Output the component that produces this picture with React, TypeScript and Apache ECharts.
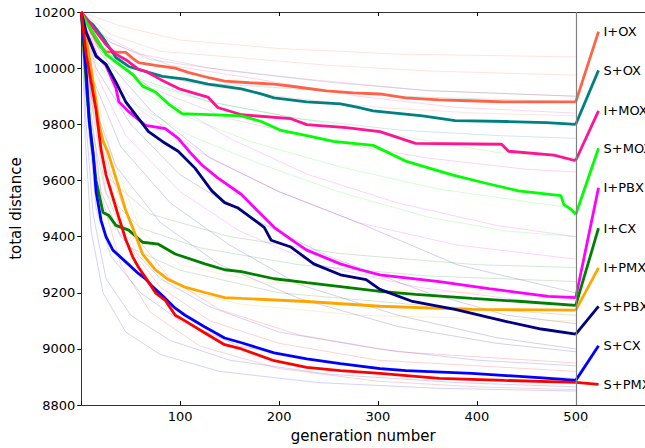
import React, { useEffect, useRef } from "react";
import * as echarts from "echarts";

const seriesNames = ["I+OX", "S+OX", "I+MOX", "S+MOX", "I+PBX", "I+CX", "I+PMX", "S+PBX", "S+CX", "S+PMX"];
const seriesColors = ["#ff6347", "#008080", "#ff1493", "#00ff00", "#ff00ff", "#008000", "#ffa500", "#000080", "#0000ff", "#ff0000"];
const labelValues = [10130, 9992, 9848, 9715, 9574, 9430, 9289, 9152, 9011, 8874];
const xTicks = [100, 200, 300, 400, 500];

const IOX = [[0,10200],[5,10170],[10,10130],[15,10100],[20,10075],[25,10058],[45,10056],[52,10035],[58,10020],[75,10010],[95,10000],[108,9985],[130,9965],[145,9954],[170,9948],[195,9943],[220,9932],[248,9919],[275,9912],[302,9908],[328,9894],[362,9887],[400,9883],[428,9880],[500,9880]];
const SOX = [[0,10200],[5,10175],[12,10154],[22,10108],[35,10038],[48,10006],[68,9985],[82,9971],[105,9961],[128,9943],[162,9926],[180,9910],[195,9894],[228,9880],[262,9873],[280,9860],[295,9848],[345,9830],[378,9813],[430,9810],[470,9806],[500,9800]];
const IMOX = [[0,10200],[8,10165],[15,10130],[25,10084],[35,10050],[45,10030],[58,9996],[65,9989],[80,9960],[100,9925],[128,9897],[138,9860],[162,9834],[212,9820],[228,9799],[268,9788],[302,9774],[338,9732],[425,9729],[432,9704],[478,9690],[498,9672],[500,9672]];
const SMOX = [[0,10200],[5,10165],[15,10108],[25,10049],[38,10014],[52,9978],[62,9936],[75,9915],[88,9873],[102,9838],[162,9830],[182,9810],[202,9778],[228,9760],[255,9739],[295,9725],[328,9669],[345,9651],[375,9620],[408,9591],[442,9563],[485,9546],[488,9514],[496,9495],[500,9479]];
const IPBX = [[0,10200],[5,10130],[15,10045],[25,10010],[35,9930],[38,9880],[48,9845],[65,9796],[85,9785],[98,9750],[110,9700],[122,9655],[138,9609],[162,9550],[178,9493],[195,9433],[212,9390],[228,9352],[262,9303],[282,9282],[302,9264],[362,9240],[412,9215],[472,9187],[500,9183]];
const ICX = [[0,10200],[3,10050],[6,9900],[10,9750],[15,9600],[22,9486],[28,9475],[35,9440],[48,9423],[62,9380],[78,9373],[95,9338],[125,9303],[145,9282],[162,9275],[195,9250],[228,9236],[262,9222],[302,9205],[338,9194],[395,9180],[445,9169],[500,9155]];
const IPMX = [[0,10200],[5,10110],[10,10000],[15,9880],[18,9800],[22,9740],[27,9700],[32,9644],[38,9574],[45,9493],[53,9423],[62,9338],[75,9282],[88,9247],[105,9220],[125,9201],[145,9183],[162,9180],[228,9169],[302,9152],[395,9141],[500,9138]];
const SPBX = [[0,10200],[5,10126],[15,10042],[25,10014],[35,9950],[45,9880],[58,9820],[68,9774],[82,9739],[98,9704],[115,9644],[132,9563],[145,9521],[158,9503],[185,9433],[192,9387],[212,9363],[235,9303],[262,9264],[288,9247],[302,9212],[335,9169],[378,9141],[428,9099],[465,9071],[500,9053]];
const SCX = [[0,10200],[3,10080],[5,9989],[8,9813],[12,9697],[15,9560],[20,9458],[25,9400],[32,9352],[45,9310],[58,9268],[65,9250],[72,9222],[85,9180],[95,9145],[105,9120],[125,9078],[145,9039],[162,9022],[195,8986],[228,8965],[262,8948],[302,8930],[328,8923],[395,8913],[462,8898],[500,8888]];
const SPMX = [[0,10200],[5,10050],[10,9950],[15,9850],[20,9710],[25,9620],[32,9539],[38,9468],[45,9390],[52,9328],[58,9290],[65,9254],[75,9200],[85,9173],[95,9120],[105,9100],[125,9057],[145,9015],[162,9000],[195,8958],[228,8934],[262,8923],[302,8913],[362,8895],[428,8888],[500,8881]];

const mainSeries = [IOX, SOX, IMOX, SMOX, IPBX, ICX, IPMX, SPBX, SCX, SPMX];

const fIOX1 = [[0,10200],[30,10120],[80,10060],[150,10040],[250,10010],[350,9990],[500,9975]];
const fIOX2 = [[0,10200],[20,10080],[60,9990],[120,9940],[200,9900],[300,9860],[400,9840],[500,9830]];
const fIOX3 = [[0,10200],[40,10150],[100,10100],[200,10070],[320,10050],[500,10040]];
const fSOX1 = [[0,10200],[25,10100],[70,10030],[150,9990],[250,9950],[350,9920],[500,9900]];
const fSOX2 = [[0,10200],[20,10060],[60,9960],[130,9880],[220,9820],[320,9780],[420,9760],[500,9750]];
const fSOX3 = [[0,10200],[15,10080],[50,10000],[110,9950],[200,9930],[320,9900],[500,9880]];
const fIMOX1 = [[0,10200],[30,10090],[90,10010],[180,9960],[280,9900],[380,9860],[500,9840]];
const fIMOX2 = [[0,10200],[25,10040],[70,9930],[150,9820],[250,9740],[350,9680],[450,9640],[500,9630]];
const fIMOX3 = [[0,10200],[20,10120],[60,10050],[130,10000],[230,9960],[350,9920],[500,9900]];
const fSMOX1 = [[0,10200],[20,10060],[60,9950],[130,9880],[220,9820],[320,9760],[420,9700],[500,9680]];
const fSMOX2 = [[0,10200],[15,10020],[50,9880],[110,9760],[180,9660],[260,9560],[350,9470],[430,9420],[500,9400]];
const fSMOX3 = [[0,10200],[30,10000],[90,9850],[170,9740],[260,9650],[360,9570],[460,9520],[500,9500]];
const fIPBX1 = [[0,10200],[20,10020],[60,9850],[120,9700],[200,9560],[280,9450],[380,9370],[500,9320]];
const fIPBX2 = [[0,10200],[15,9980],[45,9760],[100,9560],[160,9420],[240,9300],[340,9220],[500,9150]];
const fIPBX3 = [[0,10200],[25,10060],[80,9900],[150,9750],[230,9620],[320,9520],[420,9440],[500,9400]];
const fSPBX1 = [[0,10200],[15,10000],[50,9800],[100,9620],[170,9470],[250,9330],[350,9200],[430,9120],[500,9090]];
const fSPBX2 = [[0,10200],[12,9960],[40,9720],[90,9520],[150,9370],[220,9230],[320,9120],[420,9040],[500,9000]];
const fSPBX3 = [[0,10200],[20,10050],[70,9850],[130,9680],[200,9560],[280,9450],[380,9300],[500,9200]];
const fSPBX4 = [[0,10200],[10,9900],[35,9650],[80,9450],[140,9300],[220,9180],[320,9080],[420,9020],[500,8990]];
const fICX1 = [[0,10200],[10,9800],[25,9550],[60,9430],[120,9360],[220,9300],[350,9260],[500,9240]];
const fICX2 = [[0,10200],[8,9750],[20,9500],[50,9360],[100,9280],[200,9200],[330,9160],[500,9120]];
const fICX3 = [[0,10200],[12,9850],[30,9600],[70,9480],[150,9400],[260,9340],[400,9300],[500,9290]];
const fIPMX1 = [[0,10200],[12,9950],[30,9700],[60,9420],[100,9300],[180,9240],[300,9210],[500,9190]];
const fIPMX2 = [[0,10200],[10,9900],[25,9620],[55,9350],[90,9220],[160,9160],[280,9120],[500,9100]];
const fSCX1 = [[0,10200],[6,9850],[15,9500],[30,9330],[60,9200],[100,9100],[160,9010],[250,8950],[350,8920],[500,8895]];
const fSCX2 = [[0,10200],[5,9800],[12,9480],[25,9250],[50,9120],[90,9030],[150,8960],[250,8910],[380,8880],[500,8865]];
const fSCX3 = [[0,10200],[8,9900],[20,9560],[40,9400],[80,9250],[130,9150],[200,9060],[300,9000],[400,8960],[500,8940]];
const fSCX4 = [[0,10200],[4,9750],[10,9420],[22,9200],[45,9060],[80,8980],[140,8920],[240,8880],[360,8860],[500,8850]];
const fSPMX1 = [[0,10200],[10,9880],[25,9560],[45,9380],[80,9220],[130,9100],[200,9020],[300,8960],[500,8920]];
const fSPMX2 = [[0,10200],[8,9820],[20,9550],[40,9300],[70,9130],[120,9010],[200,8930],[300,8885],[400,8865],[500,8855]];
const fSPMX3 = [[0,10200],[12,9920],[30,9620],[55,9400],[90,9250],[140,9140],[220,9050],[320,8990],[500,8950]];

const faintRuns: [number, number[][]][] = [
  [0, fIOX1], [0, fIOX2], [0, fIOX3], [1, fSOX1], [1, fSOX2], [1, fSOX3],
  [2, fIMOX1], [2, fIMOX2], [2, fIMOX3], [3, fSMOX1], [3, fSMOX2], [3, fSMOX3],
  [4, fIPBX1], [4, fIPBX2], [4, fIPBX3], [7, fSPBX1], [7, fSPBX2], [7, fSPBX3], [7, fSPBX4],
  [5, fICX1], [5, fICX2], [5, fICX3], [6, fIPMX1], [6, fIPMX2],
  [8, fSCX1], [8, fSCX2], [8, fSCX3], [8, fSCX4], [9, fSPMX1], [9, fSPMX2], [9, fSPMX3],
];

const FONT = "DejaVu Sans";

export default function App() {
  const ref = useRef<HTMLDivElement>(null);
  useEffect(() => {
    if (!ref.current) return;
    const chart = echarts.init(ref.current, null, { renderer: "svg" });
    const series: any[] = [];
    faintRuns.forEach(([idx, pts]) => {
      series.push({
        type: "line",
        data: pts,
        symbol: "none",
        silent: true,
        lineStyle: { color: seriesColors[idx], width: 1, opacity: 0.18 },
        z: 1,
      });
    });
    series.push({
      type: "line",
      data: [],
      silent: true,
      markLine: {
        silent: true,
        symbol: "none",
        label: { show: false },
        lineStyle: { color: "#808080", width: 1.2, type: "solid" },
        data: [{ xAxis: 500 }],
      },
      z: 2,
    });
    mainSeries.forEach((pts, i) => {
      series.push({
        type: "line",
        name: seriesNames[i],
        data: pts,
        symbol: "none",
        lineStyle: { color: seriesColors[i], width: 2.8 },
        z: 3,
      });
      const last = pts[pts.length - 1];
      series.push({
        type: "line",
        data: [last, [523, labelValues[i]]],
        symbol: "none",
        lineStyle: { color: seriesColors[i], width: 2.8 },
        endLabel: {
          show: true,
          formatter: seriesNames[i],
          color: "#000",
          fontSize: 13,
          fontFamily: FONT,
          distance: 5,
        },
        z: 3,
      });
    });
    chart.setOption({
      animation: false,
      backgroundColor: "#fff",
      grid: { left: 75, top: 12, right: 0, bottom: 38 },
      xAxis: [
        {
          type: "value",
          min: 0,
          max: 570,
          interval: 100,
          position: "bottom",
          name: "generation number",
          nameLocation: "middle",
          nameGap: 20,
          nameTextStyle: { fontSize: 15, fontFamily: FONT, color: "#000" },
          axisLine: { show: true, lineStyle: { color: "#333", width: 1 } },
          axisTick: { show: true, inside: true, length: 4, lineStyle: { color: "#000" } },
          axisLabel: {
            fontSize: 13,
            fontFamily: FONT,
            color: "#000",
            margin: 5,
            showMaxLabel: false,
            formatter: (v: number) => (xTicks.indexOf(v) >= 0 ? String(v) : ""),
          },
          splitLine: { show: false },
        },
        {
          type: "value",
          min: 0,
          max: 570,
          interval: 100,
          position: "top",
          axisLine: { show: true, lineStyle: { color: "#333", width: 1 } },
          axisTick: { show: true, inside: true, length: 4, lineStyle: { color: "#000" } },
          axisLabel: { show: false },
          splitLine: { show: false },
        },
      ],
      yAxis: {
        type: "value",
        min: 8800,
        max: 10200,
        interval: 200,
        name: "total distance",
        nameLocation: "middle",
        nameGap: 46,
        nameRotate: 90,
        nameTextStyle: { fontSize: 15, fontFamily: FONT, color: "#000" },
        axisLine: { show: true, lineStyle: { color: "#333", width: 1 } },
        axisTick: { show: true, inside: false, length: 4, lineStyle: { color: "#000" } },
        axisLabel: {
          fontSize: 13,
          fontFamily: FONT,
          color: "#000",
          margin: 6,
          formatter: (v: number) => String(v),
        },
        splitLine: { show: false },
      },
      series,
    });
    return () => chart.dispose();
  }, []);
  return (
    <div
      ref={ref}
      style={{ position: "fixed", left: 0, top: 0, width: 645, height: 448, background: "#fff" }}
    />
  );
}
